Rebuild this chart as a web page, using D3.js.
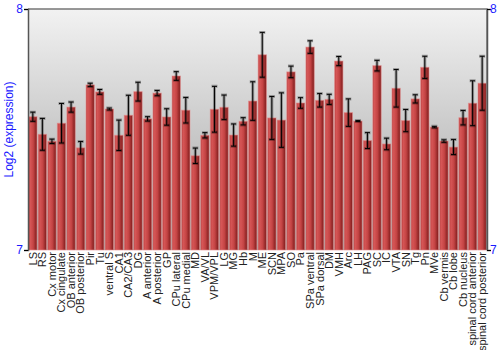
<!DOCTYPE html>
<html>
<head>
<meta charset="utf-8">
<script src="https://cdn.jsdelivr.net/npm/d3@7"></script>
<style>
  body { margin: 0; background: #fff; }
  text { font-family: "Liberation Sans", Arial, sans-serif; }
</style>
</head>
<body>
<script>
var regions = ['LS', 'RS', 'Cx motor', 'Cx cingulate', 'OB anterior', 'OB posterior', 'Pir', 'Tu',
  'ventral S', 'CA1', 'CA2/CA3', 'DG', 'A anterior', 'A posterior', 'GP', 'CPu lateral', 'CPu medial',
  'MD', 'VA/VL', 'VPM/VPL', 'LG', 'MG', 'Hb', 'M', 'ME', 'SCN', 'MPA', 'SO', 'Pa', 'SPa ventral',
  'SPa dorsal', 'DM', 'VMH', 'Arc', 'LH', 'PAG', 'SC', 'IC', 'VTA', 'SN', 'Tg', 'Pn', 'MVe',
  'Cb vermis', 'Cb lobe', 'Cb nucleus', 'spinal cord anterior', 'spinal cord posterior']

var expression = [7.553, 7.480, 7.451, 7.526, 7.593, 7.424, 7.685, 7.656,
  7.585, 7.476, 7.559, 7.657, 7.544, 7.651, 7.552, 7.722, 7.580,
  7.391, 7.476, 7.584, 7.592, 7.477, 7.534, 7.618, 7.810, 7.548, 7.539, 7.739, 7.610, 7.842,
  7.621, 7.625, 7.784, 7.570, 7.535, 7.454, 7.765, 7.440, 7.671, 7.537, 7.627, 7.758, 7.510,
  7.452, 7.427, 7.549, 7.609, 7.692]

var errors = [0.019, 0.066, 0.009, 0.082, 0.021, 0.026, 0.007, 0.010,
  0.004, 0.063, 0.083, 0.039, 0.009, 0.011, 0.034, 0.018, 0.053,
  0.032, 0.011, 0.095, 0.051, 0.046, 0.015, 0.080, 0.093, 0.089, 0.113, 0.024, 0.022, 0.026,
  0.028, 0.021, 0.019, 0.057, 0.002, 0.033, 0.022, 0.024, 0.078, 0.046, 0.017, 0.046, 0.003,
  0.005, 0.031, 0.030, 0.093, 0.112]

var yTicks = [7, 8]

// note: "top" is taken by window.top, so plot edges get their own names
var plotLeft = 28, plotRight = 487, plotTop = 9, plotBottom = 250

var svg = d3.select('body')
  .append('svg')
  .attr('width', 500)
  .attr('height', 350)

var defs = svg.append('defs')

var bg = defs.append('linearGradient')
  .attr('id', 'bg')
  .attr('x1', 0).attr('y1', 0).attr('x2', 0).attr('y2', 1)
bg.append('stop').attr('offset', '0%').attr('stop-color', '#f2f2f2')
bg.append('stop').attr('offset', '100%').attr('stop-color', '#a2a2a2')

var barGrad = defs.append('linearGradient')
  .attr('id', 'bar')
  .attr('x1', 0).attr('y1', 0).attr('x2', 1).attr('y2', 0)
barGrad.append('stop').attr('offset', '0%').attr('stop-color', '#b83a3a')
barGrad.append('stop').attr('offset', '20%').attr('stop-color', '#d65656')
barGrad.append('stop').attr('offset', '55%').attr('stop-color', '#c44444')
barGrad.append('stop').attr('offset', '100%').attr('stop-color', '#7c1a1a')

var x = d3.scaleBand()
  .domain(regions)
  .range([plotLeft, plotRight])
  .paddingInner(0.13)
  .paddingOuter(0.07)

var y = d3.scaleLinear()
  .domain([7, 8])
  .range([plotBottom, plotTop])

// plot background
svg.append('rect')
  .attr('x', plotLeft)
  .attr('y', plotTop)
  .attr('width', plotRight - plotLeft)
  .attr('height', plotBottom - plotTop)
  .style('fill', 'url(#bg)')

var data = regions.map(function(r, i) {
  return {name: r, value: expression[i], err: errors[i]}
})

// bars
svg.append('g')
  .selectAll('rect')
  .data(data)
  .enter()
  .append('rect')
  .attr('x', function(d) { return x(d.name) })
  .attr('y', function(d) { return y(d.value) })
  .attr('width', x.bandwidth())
  .attr('height', function(d) { return plotBottom - y(d.value) })
  .style('fill', 'url(#bar)')
  .style('stroke', 'rgba(230,140,140,0.6)')
  .style('stroke-width', '1px')

// error bars
var eb = svg.append('g')
  .selectAll('g')
  .data(data)
  .enter()
  .append('g')
  .attr('transform', function(d) { return 'translate(' + (x(d.name) + x.bandwidth() / 2) + ',0)' })

function errPath(d, w) {
  var y0 = y(d.value + d.err), y1 = y(d.value - d.err)
  return 'M' + (-w) + ',' + y0 + 'H' + w + 'M0,' + y0 + 'V' + y1 + 'M' + (-w) + ',' + y1 + 'H' + w
}

eb.append('path')
  .attr('d', function(d) { return errPath(d, 3) })
  .style('fill', 'none')
  .style('stroke', 'rgba(0,0,0,0.3)')
  .style('stroke-width', '3px')

eb.append('path')
  .attr('d', function(d) { return errPath(d, 2.5) })
  .style('fill', 'none')
  .style('stroke', '#000')
  .style('stroke-width', '1px')

// frame
svg.append('path')
  .attr('d', 'M' + plotLeft + ',' + plotTop + 'H' + plotRight + 'V' + plotBottom)
  .style('fill', 'none')
  .style('stroke', '#777')
  .style('stroke-width', '1.5px')

// axes
var yLeft = svg.append('g')
  .attr('transform', 'translate(' + plotLeft + ',0)')
  .call(d3.axisLeft(y).tickValues(yTicks).tickSize(4).tickFormat(d3.format('d')))
var yRight = svg.append('g')
  .attr('transform', 'translate(' + plotRight + ',0)')
  .call(d3.axisRight(y).tickValues(yTicks).tickSize(4).tickFormat(d3.format('d')))

;[yLeft, yRight].forEach(function(a) {
  a.select('.domain').style('stroke', '#555').style('stroke-width', '1.5px')
  a.selectAll('.tick line').style('stroke', '#000')
  a.selectAll('.tick text')
    .style('fill', '#1a1aff')
    .style('font-size', '12px')
    .style('font-family', '"Liberation Sans", Arial, sans-serif')
})
yRight.selectAll('.tick text').attr('x', 3)
yLeft.selectAll('.tick text').attr('x', -5)

// category labels
svg.append('g')
  .selectAll('text')
  .data(regions)
  .enter()
  .append('text')
  .attr('transform', function(d) { return 'translate(' + (x(d) + x.bandwidth() / 2) + ',' + (plotBottom + 2) + ') rotate(-90)' })
  .attr('text-anchor', 'end')
  .attr('dy', '0.35em')
  .style('font-size', '11px')
  .style('fill', '#222')
  .text(function(d) { return d })

// y label
svg.append('text')
  .attr('transform', 'translate(13,' + ((plotTop + plotBottom) / 2) + ') rotate(-90)')
  .attr('text-anchor', 'middle')
  .style('font-size', '12px')
  .style('fill', '#1a1aff')
  .text('Log2 (expression)')
</script>
</body>
</html>
